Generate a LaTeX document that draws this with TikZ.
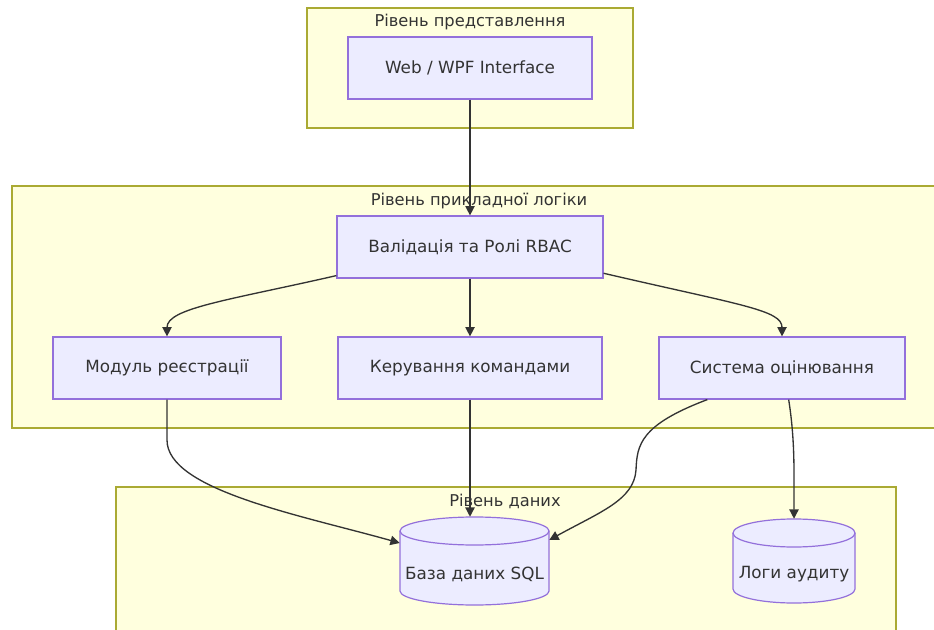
\documentclass[tikz,border=0pt]{standalone}
\usepackage{fontspec}
\setmainfont{DejaVu Sans}
\usetikzlibrary{arrows.meta,calc}
\definecolor{clfill}{HTML}{FFFFDE}
\definecolor{clline}{HTML}{AAAA33}
\definecolor{ndfill}{HTML}{ECECFF}
\definecolor{ndline}{HTML}{9370DB}
\definecolor{edge}{HTML}{333333}
\definecolor{txt}{HTML}{333333}
\tikzset{
  cluster/.style={fill=clfill,draw=clline,line width=1pt},
  cltitle/.style={text=txt,font=\fontsize{12.2}{14}\selectfont,inner sep=0pt},
  box/.style={rectangle,fill=ndfill,draw=ndline,line width=0.9pt,text=txt,
    font=\fontsize{12.6}{14}\selectfont,minimum height=46.5pt,inner sep=0pt},
  cyl/.style={fill=ndfill,draw=ndline,line width=0.9pt},
  cylnode/.style={rectangle,draw=none,text=txt,font=\fontsize{12.6}{14}\selectfont,inner sep=0pt},
  conn/.style={draw=edge,line width=1pt,-{Triangle[length=7pt,width=7pt]}}
}
\begin{document}
\begin{tikzpicture}[x=0.75pt,y=0.75pt]
\clip (0,0) rectangle (934,-630);
\fill[white] (0,0) rectangle (934,-630);
% clusters
\draw[cluster] (307,-8) rectangle (633,-128);
\node[cltitle] (t1) at (470,-22) {Рівень представлення};
\draw[cluster] (12,-186) rectangle (940,-428);
\node[cltitle] (t2) at (479,-201) {Рівень прикладної логіки};
\draw[cluster] (116,-487) rectangle (896,-640);
\node[cltitle] (t3) at (505,-501) {Рівень даних};
% nodes
\node[box,minimum width=183pt] (web) at (470,-68) {Web / WPF Interface};
\node[box,minimum width=199.5pt] (valid) at (470,-247) {Валідація та Ролі RBAC};
\node[box,minimum width=171pt] (mod) at (167,-368) {Модуль реєстрації};
\node[box,minimum width=198pt] (team) at (470,-368) {Керування командами};
\node[box,minimum width=184.5pt] (assess) at (782,-368) {Система оцінювання};
% cylinders
\draw[cyl] (400,-531) -- (400,-591) arc[start angle=180,end angle=360,x radius=74.5,y radius=14]
  -- (549,-531) arc[start angle=0,end angle=180,x radius=74.5,y radius=14] -- cycle;
\draw[cyl,fill=none] (400,-531) arc[start angle=180,end angle=360,x radius=74.5,y radius=14];
\node[cylnode,minimum width=111.75pt,minimum height=66pt] (sql) at (474.5,-561) {};
\node[cylnode] (sqlt) at (474.5,-574) {База даних SQL};
\draw[cyl] (733,-533) -- (733,-589) arc[start angle=180,end angle=360,x radius=61,y radius=14]
  -- (855,-533) arc[start angle=0,end angle=180,x radius=61,y radius=14] -- cycle;
\draw[cyl,fill=none] (733,-533) arc[start angle=180,end angle=360,x radius=61,y radius=14];
\node[cylnode,minimum width=91.5pt,minimum height=63pt] (logs) at (794,-561) {};
\node[cylnode] (logst) at (794,-574) {Логи аудиту};
% connectors
\draw[conn] (web.south) -- (valid.north);
\draw[conn] ([yshift=2.25pt]valid.south west) .. controls (230,-300) and (167,-308) .. (mod.north);
\draw[conn] (valid.south) -- (team.north);
\draw[conn] ([yshift=4pt]valid.south east) .. controls (740,-305) and (782,-310) .. (assess.north);
\draw[conn] (mod.south) -- (167,-440) .. controls (167,-490) and (300,-515) .. ([yshift=13.5pt]sql.west);
\draw[conn] (team.south) -- (team.south |- sql.north);
\draw[conn] ([xshift=-56pt]assess.south) .. controls (640,-425) and (637,-445) .. (636,-470)
  .. controls (634,-500) and (600,-512) .. ([yshift=15.75pt]sql.east);
\draw[conn] ([xshift=5pt]assess.south) .. controls (795,-440) and (794,-470) .. (logs.north);
\end{tikzpicture}
\end{document}
